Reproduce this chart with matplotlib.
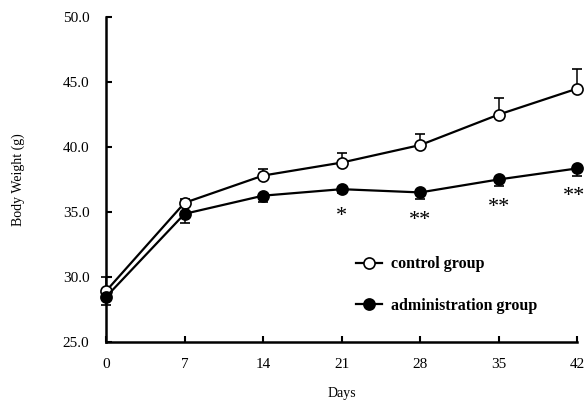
import numpy as np
import matplotlib.pyplot as plt

plt.rcParams['font.family'] = ['Liberation Serif', 'DejaVu Serif']

days = [0, 7, 14, 21, 28, 35, 42]
control = [28.9, 35.7, 37.8, 38.8, 40.15, 42.5, 44.5]
control_err = [1.1, 0.3, 0.5, 0.7, 0.85, 1.3, 1.5]
admin = [28.45, 34.85, 36.25, 36.75, 36.5, 37.5, 38.35]
admin_err = [0.6, 0.7, 0.45, 0.3, 0.5, 0.5, 0.6]
signif = ['', '', '', '*', '**', '**', '**']
yticks = [25.0, 30.0, 35.0, 40.0, 45.0, 50.0]

fig = plt.figure(figsize=(5.86, 4.01), dpi=100)
ax = fig.add_axes([0.181, 0.148, 0.804, 0.809])

zeros = np.zeros(len(days))
ax.errorbar(days, control, yerr=[zeros, control_err], color='black', lw=1.6,
            marker='o', ms=8, mfc='white', mec='black', mew=1.2,
            capsize=3.5, elinewidth=1.1, capthick=1.1, clip_on=False,
            label='control group', zorder=3)
ax.errorbar(days, admin, yerr=[admin_err, zeros], color='black', lw=1.6,
            marker='o', ms=8, mfc='black', mec='black', mew=1.2,
            capsize=3.5, elinewidth=1.1, capthick=1.1, clip_on=False,
            label='administration group', zorder=4)

for d, v, s in zip(days, admin, signif):
    if not s:
        continue
    # last label sits at the right edge, keep it inside the figure
    if d == days[-1]:
        ax.annotate(s, (d, v), xytext=(6, -20), textcoords='offset points',
                    ha='right', va='center', fontsize=16, annotation_clip=False)
    else:
        ax.annotate(s, (d, v), xytext=(0, -20), textcoords='offset points',
                    ha='center', va='center', fontsize=16, annotation_clip=False)

ax.set_xlim(0, 42)
ax.set_ylim(25, 50)
ax.set_xticks(days)
ax.set_yticks(yticks)
ax.set_yticklabels(['%.1f' % t for t in yticks])
ax.tick_params(direction='in', length=4, width=1.5, labelsize=11, pad=12)
ax.tick_params(axis='x', pad=12)
for side in ['top', 'right']:
    ax.spines[side].set_visible(False)
for side in ['left', 'bottom']:
    ax.spines[side].set_linewidth(1.8)

ax.set_xlabel('Days', fontsize=10, labelpad=11)
ax.set_ylabel('Body Weight (g)', fontsize=10, labelpad=27)

handles, labels = ax.get_legend_handles_labels()
handles = [h[0] for h in handles]
ax.legend(handles, labels, loc='center left', bbox_to_anchor=(0.5, 0.175),
          frameon=False, handlelength=1.6, handletextpad=0.6, labelspacing=1.6,
          prop={'weight': 'bold', 'size': 11.5})

fig.savefig('out.png', dpi=100)
